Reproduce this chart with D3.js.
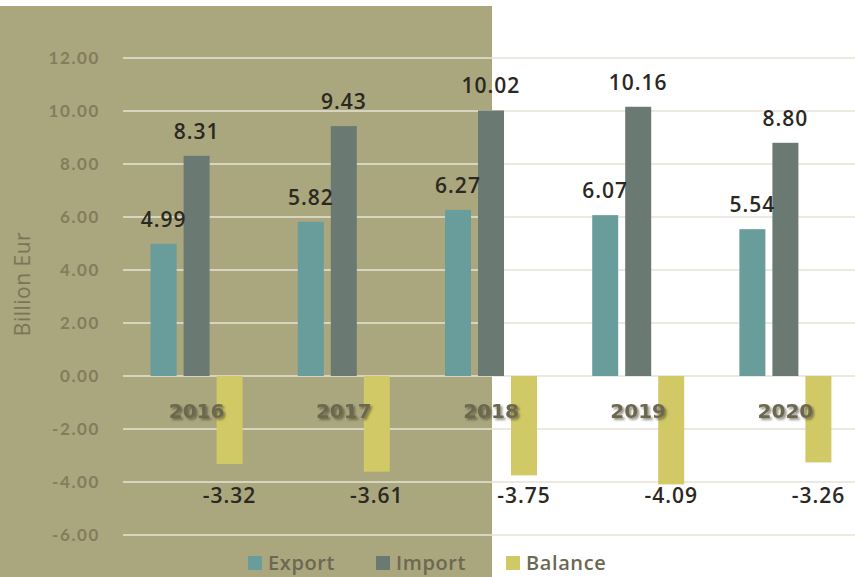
<!DOCTYPE html>
<html><head><meta charset="utf-8">
<script src="https://cdn.jsdelivr.net/npm/d3@7"></script>
<style>body{margin:0;background:#fff}svg{display:block}</style>
</head><body>
<svg id="c" width="855" height="577"></svg>
<script>
const years = ["2016","2017","2018","2019","2020"];
const seriesNames = ["Export","Import","Balance"];
const exportVals = [4.99, 5.82, 6.27, 6.07, 5.54];
const importVals = [8.31, 9.43, 10.02, 10.16, 8.80];
const balanceVals = [-3.32, -3.61, -3.75, -4.09, -3.26];
const yTicks = [-6, -4, -2, 0, 2, 4, 6, 8, 10, 12];
const colors = {Export:"#689d9b", Import:"#6a7a72", Balance:"#d1c966"};

const seriesVals = {Export: exportVals, Import: importVals, Balance: balanceVals};
const svg = d3.select("#c");
const W = 855, H = 577;

// khaki panel
svg.append("rect").attr("x",0).attr("y",6).attr("width",492).attr("height",H-6).attr("fill","#aaa67d");

const y = d3.scaleLinear().domain([-6,12]).range([535,58]);
const x = d3.scaleBand().domain(years).range([123,859]).padding(0);
const xs = d3.scaleBand().domain(seriesNames).range([-46,46]).paddingInner(0.212).paddingOuter(0);

const defs = svg.append("defs");
const f = defs.append("filter").attr("id","sh").attr("x","-20%").attr("y","-40%").attr("width","150%").attr("height","190%");
f.append("feDropShadow").attr("dx",2).attr("dy",2).attr("stdDeviation",1.2).attr("flood-color","#3e3a2a").attr("flood-opacity",0.55);

const fmt = v => d3.format(".2f")(v).replace("\u2212","-");

// gridlines
const grid = svg.append("g");
yTicks.forEach(t => {
  grid.append("line").attr("x1",123).attr("x2",W).attr("y1",y(t)).attr("y2",y(t))
    .attr("stroke","#e6e3d6").attr("stroke-width",1.6);
});

// y-axis tick labels
const yAxis = d3.axisLeft(y).tickValues(yTicks).tickFormat(fmt).tickSize(0).tickPadding(0);
const ga = svg.append("g").attr("transform","translate(100,0)").call(yAxis);
ga.select(".domain").remove();
ga.selectAll("text").attr("fill","#857c5e").attr("font-family","Lato, 'Open Sans', sans-serif")
  .attr("font-weight","700").attr("font-size","17px").attr("letter-spacing","1.6px").attr("dy","0.35em");

// y title
svg.append("text").attr("transform","translate(30,284) rotate(-90)").attr("text-anchor","middle")
  .attr("font-family","'Open Sans', sans-serif").attr("font-size","21px").attr("fill","#7b7557")
  .attr("letter-spacing","0.5px")
  .text("Billion Eur");

// bars
const flat = [];
years.forEach((yr,i) => seriesNames.forEach(s => flat.push({yr, s, v: seriesVals[s][i]})));
svg.append("g").selectAll("rect").data(flat).join("rect")
  .attr("x", d => x(d.yr) + x.bandwidth()/2 + xs(d.s))
  .attr("width", xs.bandwidth())
  .attr("y", d => y(Math.max(0,d.v)))
  .attr("height", d => Math.abs(y(d.v) - y(0)))
  .attr("fill", d => colors[d.s]);

// year labels
svg.append("g").selectAll("text").data(years).join("text")
  .attr("x", d => x(d) + x.bandwidth()/2)
  .attr("y", y(-1.6))
  .attr("text-anchor","middle")
  .attr("font-family","'DejaVu Sans', sans-serif").attr("font-weight","700").attr("font-size","20px")
  .attr("fill","#6c6850").attr("filter","url(#sh)")
  .text(d => d);

// value labels
svg.append("g").selectAll("text").data(flat).join("text")
  .attr("x", d => x(d.yr) + x.bandwidth()/2 + xs(d.s) + xs.bandwidth()/2)
  .attr("y", d => d.v >= 0 ? y(d.v) - 17 : y(-4.8))
  .attr("text-anchor","middle")
  .attr("font-family","'Open Sans', sans-serif").attr("font-weight","600").attr("font-size","21px")
  .attr("letter-spacing","1px")
  .attr("fill","#2a2822")
  .text(d => fmt(d.v));

// legend
const legX = {Export:248, Import:376, Balance:506};
const lg = svg.append("g");
seriesNames.forEach(s => {
  lg.append("rect").attr("x",legX[s]).attr("y",556).attr("width",14).attr("height",14).attr("fill",colors[s]);
  lg.append("text").attr("x",legX[s]+20).attr("y",570)
    .attr("font-family","'Open Sans', sans-serif").attr("font-weight","600").attr("font-size","20px")
    .attr("letter-spacing","0.6px")
    .attr("fill","#6d6852").text(s);
});
</script>
</body></html>
